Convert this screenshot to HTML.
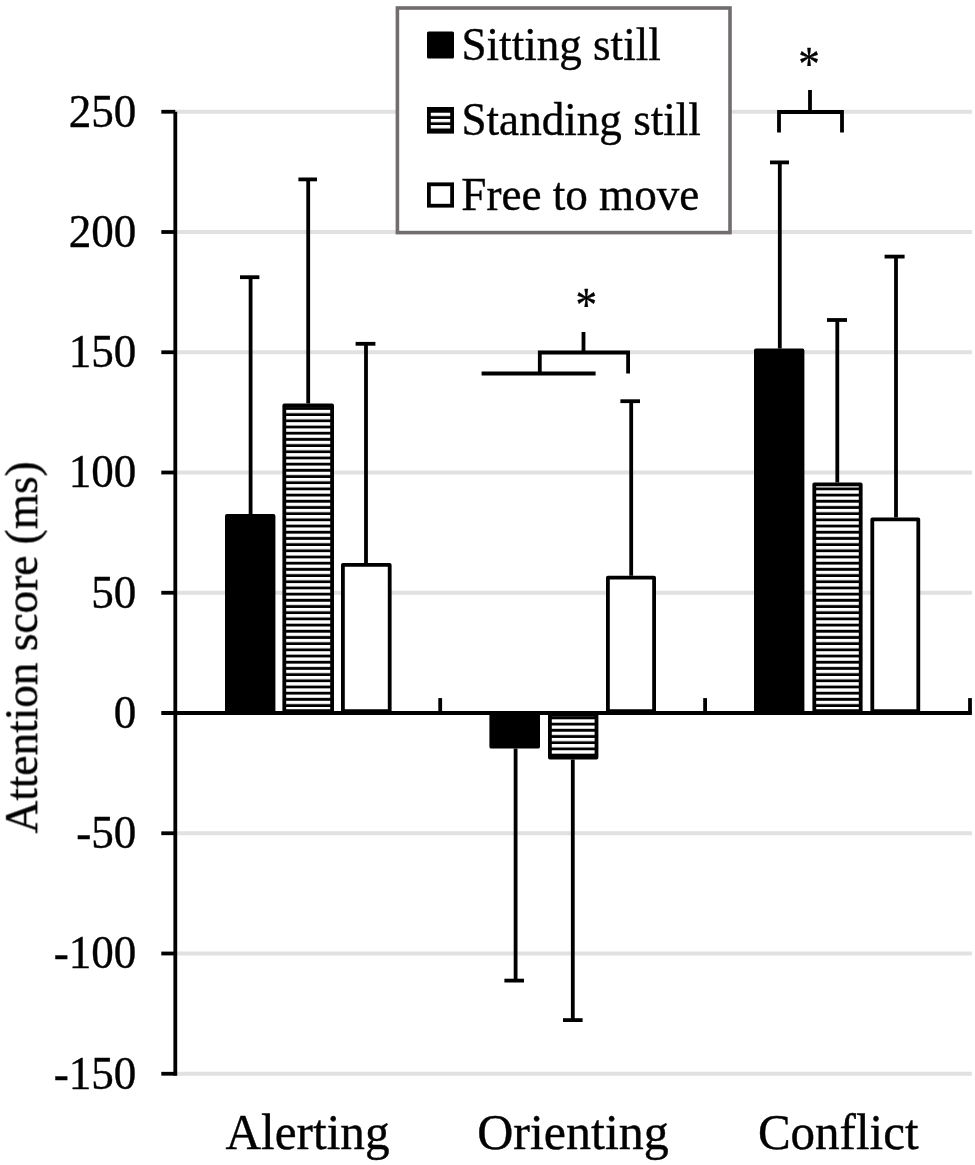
<!DOCTYPE html>
<html><head><meta charset="utf-8"><title>Attention score chart</title>
<style>
html,body{margin:0;padding:0;background:#fff;}
body{width:975px;height:1165px;overflow:hidden;}
svg{display:block;}
text{font-family:"Liberation Serif",serif;fill:#000;stroke:#000;stroke-width:0.4px;}
</style></head><body>
<svg width="975" height="1165" viewBox="0 0 975 1165">
<defs><pattern id="hz" x="0" y="1.285" width="10" height="6.19" patternUnits="userSpaceOnUse"><rect x="0" y="0" width="10" height="6.19" fill="#000"/><rect x="0" y="0" width="10" height="3.35" fill="#fff"/></pattern></defs>
<rect width="975" height="1165" fill="#fff"/>
<line x1="175.3" x2="971.9" y1="111.75" y2="111.75" stroke="#e1e1e1" stroke-width="3.8"/>
<line x1="175.3" x2="971.9" y1="232.00" y2="232.00" stroke="#e1e1e1" stroke-width="3.8"/>
<line x1="175.3" x2="971.9" y1="352.25" y2="352.25" stroke="#e1e1e1" stroke-width="3.8"/>
<line x1="175.3" x2="971.9" y1="472.50" y2="472.50" stroke="#e1e1e1" stroke-width="3.8"/>
<line x1="175.3" x2="971.9" y1="592.75" y2="592.75" stroke="#e1e1e1" stroke-width="3.8"/>
<line x1="175.3" x2="971.9" y1="833.25" y2="833.25" stroke="#e1e1e1" stroke-width="3.8"/>
<line x1="175.3" x2="971.9" y1="953.50" y2="953.50" stroke="#e1e1e1" stroke-width="3.8"/>
<line x1="175.3" x2="971.9" y1="1073.75" y2="1073.75" stroke="#e1e1e1" stroke-width="3.8"/>
<rect x="226.90" y="515.90" width="46.60" height="195.20" fill="#000" stroke="#000" stroke-width="3.8" stroke-linejoin="round"/>
<line x1="250.6" x2="250.6" y1="514.0" y2="277.2" stroke="#000" stroke-width="3.8"/>
<line x1="240.0" x2="259.4" y1="277.2" y2="277.2" stroke="#000" stroke-width="3.8"/>
<rect x="284.30" y="405.50" width="47.80" height="305.60" fill="url(#hz)" stroke="#000" stroke-width="3.8" stroke-linejoin="round"/>
<line x1="308.2" x2="308.2" y1="403.6" y2="179.4" stroke="#000" stroke-width="3.8"/>
<line x1="298.4" x2="317.0" y1="179.4" y2="179.4" stroke="#000" stroke-width="3.8"/>
<rect x="342.90" y="564.90" width="46.80" height="146.20" fill="#fff" stroke="#000" stroke-width="3.8" stroke-linejoin="round"/>
<line x1="366.0" x2="366.0" y1="563.0" y2="343.8" stroke="#000" stroke-width="3.8"/>
<line x1="355.6" x2="375.4" y1="343.8" y2="343.8" stroke="#000" stroke-width="3.8"/>
<rect x="491.30" y="714.90" width="46.80" height="31.80" fill="#000" stroke="#000" stroke-width="3.8" stroke-linejoin="round"/>
<line x1="515.6" x2="515.6" y1="748.6" y2="980.6" stroke="#000" stroke-width="3.8"/>
<line x1="504.4" x2="524.0" y1="980.6" y2="980.6" stroke="#000" stroke-width="3.8"/>
<rect x="549.90" y="714.90" width="46.60" height="42.60" fill="url(#hz)" stroke="#000" stroke-width="3.8" stroke-linejoin="round"/>
<line x1="572.8" x2="572.8" y1="759.4" y2="1020.1" stroke="#000" stroke-width="3.8"/>
<line x1="563.0" x2="582.6" y1="1020.1" y2="1020.1" stroke="#000" stroke-width="3.8"/>
<rect x="607.90" y="577.70" width="46.20" height="133.40" fill="#fff" stroke="#000" stroke-width="3.8" stroke-linejoin="round"/>
<line x1="631.2" x2="631.2" y1="575.8" y2="401.2" stroke="#000" stroke-width="3.8"/>
<line x1="620.4" x2="640.0" y1="401.2" y2="401.2" stroke="#000" stroke-width="3.8"/>
<rect x="755.90" y="350.50" width="46.60" height="360.60" fill="#000" stroke="#000" stroke-width="3.8" stroke-linejoin="round"/>
<line x1="779.8" x2="779.8" y1="348.6" y2="162.4" stroke="#000" stroke-width="3.8"/>
<line x1="770.0" x2="789.0" y1="162.4" y2="162.4" stroke="#000" stroke-width="3.8"/>
<rect x="814.30" y="484.30" width="46.40" height="226.80" fill="url(#hz)" stroke="#000" stroke-width="3.8" stroke-linejoin="round"/>
<line x1="837.3" x2="837.3" y1="482.4" y2="320.0" stroke="#000" stroke-width="3.8"/>
<line x1="827.0" x2="847.0" y1="320.0" y2="320.0" stroke="#000" stroke-width="3.8"/>
<rect x="872.30" y="519.30" width="46.00" height="191.80" fill="#fff" stroke="#000" stroke-width="3.8" stroke-linejoin="round"/>
<line x1="896.0" x2="896.0" y1="517.4" y2="256.6" stroke="#000" stroke-width="3.8"/>
<line x1="884.6" x2="904.6" y1="256.6" y2="256.6" stroke="#000" stroke-width="3.8"/>
<line x1="175.3" x2="175.3" y1="111.75" y2="1075.65" stroke="#000" stroke-width="3.8"/>
<line x1="161.3" x2="971.9" y1="713.0" y2="713.0" stroke="#000" stroke-width="3.8"/>
<line x1="161.3" x2="175.3" y1="111.75" y2="111.75" stroke="#000" stroke-width="3.8"/>
<line x1="161.3" x2="175.3" y1="232.00" y2="232.00" stroke="#000" stroke-width="3.8"/>
<line x1="161.3" x2="175.3" y1="352.25" y2="352.25" stroke="#000" stroke-width="3.8"/>
<line x1="161.3" x2="175.3" y1="472.50" y2="472.50" stroke="#000" stroke-width="3.8"/>
<line x1="161.3" x2="175.3" y1="592.75" y2="592.75" stroke="#000" stroke-width="3.8"/>
<line x1="161.3" x2="175.3" y1="833.25" y2="833.25" stroke="#000" stroke-width="3.8"/>
<line x1="161.3" x2="175.3" y1="953.50" y2="953.50" stroke="#000" stroke-width="3.8"/>
<line x1="161.3" x2="175.3" y1="1073.75" y2="1073.75" stroke="#000" stroke-width="3.8"/>
<line x1="440.2" x2="440.2" y1="698.1" y2="713.0" stroke="#000" stroke-width="3.8"/>
<line x1="705.1" x2="705.1" y1="698.1" y2="713.0" stroke="#000" stroke-width="3.8"/>
<line x1="970.0" x2="970.0" y1="698.1" y2="713.0" stroke="#000" stroke-width="3.8"/>
<rect x="397.4" y="8" width="332.6" height="224.6" fill="#fff" stroke="#726d6d" stroke-width="3.6"/>
<rect x="427" y="31.6" width="27" height="26.8" rx="1.5" fill="#000"/>
<rect x="428.9" y="108.9" width="23.2" height="22.8" fill="url(#hz)" stroke="#000" stroke-width="3.8"/>
<rect x="428.9" y="184.3" width="23.2" height="21.4" fill="#fff" stroke="#000" stroke-width="3.8"/>
<path d="M779,132.4 V112 H842 V132.4 M810,112 V90" fill="none" stroke="#000" stroke-width="3.8"/>
<path d="M481.6,373.5 H595.6 M539.8,373.5 V352.5 H628.1 V373.4 M583.5,352.5 V332" fill="none" stroke="#000" stroke-width="3.8"/>
<g opacity="0.995">
<text transform="translate(136.3,126.65) scale(0.98,1)" font-size="46" text-anchor="end">250</text>
<text transform="translate(136.3,246.90) scale(0.98,1)" font-size="46" text-anchor="end">200</text>
<text transform="translate(136.3,367.15) scale(0.98,1)" font-size="46" text-anchor="end">150</text>
<text transform="translate(136.3,487.40) scale(0.98,1)" font-size="46" text-anchor="end">100</text>
<text transform="translate(136.3,607.65) scale(0.98,1)" font-size="46" text-anchor="end">50</text>
<text transform="translate(136.3,727.90) scale(0.98,1)" font-size="46" text-anchor="end">0</text>
<text transform="translate(136.3,848.15) scale(0.98,1)" font-size="46" text-anchor="end">-50</text>
<text transform="translate(136.3,968.40) scale(0.98,1)" font-size="46" text-anchor="end">-100</text>
<text transform="translate(136.3,1088.65) scale(0.98,1)" font-size="46" text-anchor="end">-150</text>
<text transform="translate(307.5,1149) scale(0.985,1)" font-size="50" text-anchor="middle">Alerting</text>
<text transform="translate(573,1149) scale(1.0,1)" font-size="50" text-anchor="middle">Orienting</text>
<text transform="translate(838.2,1149) scale(0.98,1)" font-size="50" text-anchor="middle">Conflict</text>
<text transform="translate(37.2,647.4) rotate(-90) scale(0.995,1)" font-size="45.5" text-anchor="middle">Attention score (ms)</text>
<text transform="translate(461.5,60.4) scale(0.96,1)" font-size="47">Sitting still</text>
<text transform="translate(461.5,135) scale(0.96,1)" font-size="47">Standing still</text>
<text transform="translate(461.3,210) scale(0.96,1)" font-size="47">Free to move</text>
<text transform="translate(809,79.5) scale(0.89,1)" font-size="48.5" text-anchor="middle">*</text>
<text transform="translate(586.2,320.5) scale(0.89,1)" font-size="48.5" text-anchor="middle">*</text>
</g>
</svg>
</body></html>
